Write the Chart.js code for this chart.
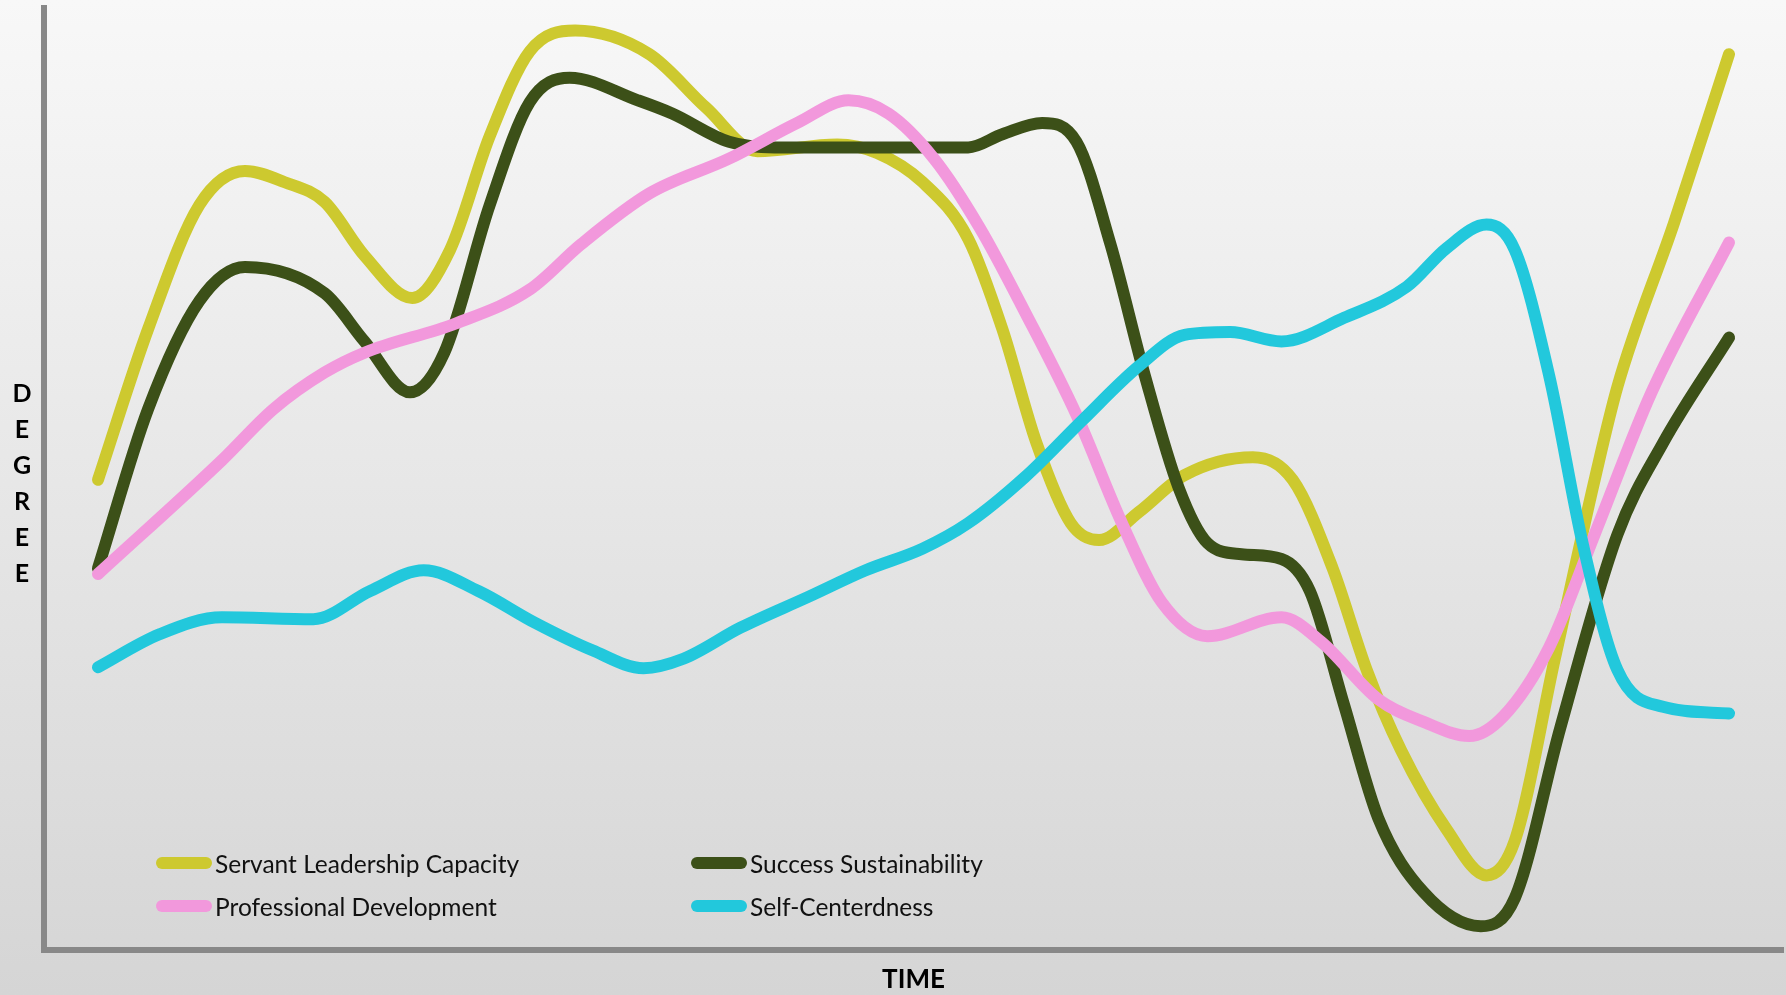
<!DOCTYPE html>
<html lang="en">
<head>
    <meta charset="UTF-8">
    <title>Degree over Time</title>
    <style>
        html, body {
            margin: 0;
            padding: 0;
            width: 1786px;
            height: 995px;
            overflow: hidden;
            background: linear-gradient(to bottom, #f8f8f8 0%, #d5d5d5 100%);
            font-family: Lato, "Open Sans", sans-serif;
        }
        #chart-container {
            position: absolute;
            left: 0;
            top: 0;
            width: 1786px;
            height: 995px;
        }
        #degree-label {
            position: absolute;
            left: 8px;
            top: 374px;
            width: 28px;
            text-align: center;
            font-weight: bold;
            font-size: 25px;
            line-height: 36px;
            color: #000;
        }
        #legend {
            position: absolute;
            left: 156px;
            top: 845px;
            display: grid;
            grid-template-columns: 535px 400px;
            row-gap: 7px;
        }
        .legend-item {
            display: flex;
            align-items: center;
            height: 36px;
            font-size: 24.5px;
            color: #111;
        }
        .swatch {
            width: 56px;
            height: 12px;
            border-radius: 6px;
            margin-right: 3px;
        }
    </style>
    <script src="https://cdn.jsdelivr.net/npm/chart.js"></script>
</head>
<body>
    <div id="chart-container">
        <canvas id="degreeChart"></canvas>
    </div>
    <div id="degree-label">D<br>E<br>G<br>R<br>E<br>E</div>
    <div id="legend"></div>

    <script>
        // time (0-100) and degree (0-100)
        const servantTime   = [0, 3.07, 6.22, 9.01, 11.45, 13.9, 16.34, 19.27, 21.58, 24.02, 26.47, 29.26, 33.8, 37.29, 40.43, 45.32, 47.77, 50.56, 53.35, 55.45, 57.54, 59.64, 61.38, 63.83, 66.62, 70.81, 73.25, 75.7, 77.79, 79.89, 82.68, 85.13, 86.87, 89.32, 91.76, 93.16, 96.65, 100];
        const servantDegree = [49.9, 65.9, 79.1, 82.7, 81.5, 79.4, 73.7, 69.2, 74.3, 86.4, 95.4, 97.6, 95.1, 89.4, 84.8, 85.5, 84.6, 81.5, 75.5, 65.9, 53.8, 45.3, 43.5, 46.5, 50.4, 52.3, 49.9, 40.5, 29.7, 21.2, 12.8, 7.9, 11.6, 30.9, 49.9, 59.8, 77.3, 95.1];

        const successTime   = [0, 3.07, 6.22, 9.01, 13.9, 16.34, 19.13, 21.23, 24.02, 26.47, 28.91, 33.1, 35.2, 38.69, 41.48, 47.07, 53.35, 55.45, 57.89, 59.99, 62.08, 64.18, 66.27, 68.02, 70.11, 72.56, 74.3, 76.4, 78.49, 81.28, 84.78, 86.87, 89.66, 93.16, 95.95, 100];
        const successDegree = [40.5, 57.4, 68.9, 72.5, 69.7, 64.6, 59.2, 63.4, 79.1, 90.0, 92.6, 90.2, 88.8, 85.8, 85.2, 85.2, 85.2, 86.6, 87.8, 85.8, 74.9, 61.0, 49.0, 43.2, 42.0, 41.5, 38.1, 26.0, 14.0, 6.1, 2.5, 5.5, 23.6, 44.1, 53.8, 65.0];

        const professionalTime   = [0, 7.61, 10.75, 13.9, 16.34, 21.93, 26.47, 29.61, 33.8, 38.69, 42.88, 46.02, 48.46, 51.26, 54.05, 56.84, 59.99, 62.78, 65.22, 68.02, 72.56, 75.0, 78.49, 81.28, 84.08, 86.17, 88.97, 91.76, 95.25, 100];
        const professionalDegree = [39.9, 52.0, 57.4, 61.3, 63.4, 66.5, 70.1, 74.9, 80.3, 84.0, 87.8, 90.2, 88.8, 84.0, 76.7, 67.7, 56.8, 45.3, 36.9, 33.3, 35.3, 32.7, 26.6, 24.2, 22.7, 24.8, 32.1, 44.1, 59.2, 75.1];

        const selfTime   = [0, 3.77, 7.61, 13.2, 16.69, 19.97, 23.32, 26.82, 30.31, 33.45, 35.89, 39.39, 43.58, 47.07, 50.56, 53.35, 56.84, 60.34, 63.83, 66.62, 69.41, 72.56, 76.4, 80.24, 82.68, 85.13, 86.87, 88.97, 91.06, 93.16, 95.95, 100];
        const selfDegree = [30.0, 33.5, 35.3, 35.1, 38.1, 40.3, 38.1, 34.7, 31.8, 29.9, 30.9, 34.2, 37.5, 40.3, 42.6, 45.3, 50.2, 56.2, 62.0, 65.3, 65.6, 64.6, 67.1, 70.4, 74.5, 77.0, 74.3, 61.0, 42.9, 29.7, 25.8, 25.1];

        const seriesNames  = ['Servant Leadership Capacity', 'Success Sustainability', 'Professional Development', 'Self-Centerdness'];
        const seriesColors = ['#cdc92f', '#3c5018', '#f298dc', '#22c8dc'];

        function toPoints(xs, ys) {
            return xs.map((x, i) => ({ x: x, y: ys[i] }));
        }

        const seriesData = [
            toPoints(servantTime, servantDegree),
            toPoints(successTime, successDegree),
            toPoints(professionalTime, professionalDegree),
            toPoints(selfTime, selfDegree)
        ];
        // drawing order: cyan on top, yellow at the bottom
        const drawOrder = [3, 2, 1, 0];

        const ctx = document.getElementById('degreeChart').getContext('2d');
        const chart = new Chart(ctx, {
            type: 'line',
            data: {
                datasets: seriesNames.map((name, i) => ({
                    label: name,
                    data: seriesData[i],
                    borderColor: seriesColors[i],
                    backgroundColor: seriesColors[i],
                    borderWidth: 12,
                    borderCapStyle: 'round',
                    borderJoinStyle: 'round',
                    pointRadius: 0,
                    cubicInterpolationMode: 'monotone',
                    fill: false,
                    order: drawOrder[i]
                }))
            },
            options: {
                responsive: true,
                maintainAspectRatio: false,
                animation: false,
                layout: {
                    padding: { left: 44, top: 8, right: 3, bottom: 0 }
                },
                plugins: {
                    legend: { display: false },
                    tooltip: { enabled: false }
                },
                scales: {
                    x: {
                        type: 'linear',
                        min: -3.31,
                        max: 103.31,
                        grid: { display: false, drawTicks: false },
                        ticks: { display: false },
                        border: { display: true, color: '#888888', width: 6 },
                        title: {
                            display: true,
                            text: 'TIME',
                            color: '#000',
                            font: { family: 'Lato', size: 26, weight: 'bold' },
                            padding: { top: 14, bottom: 0 }
                        }
                    },
                    y: {
                        min: 0,
                        max: 100,
                        grid: { display: false, drawTicks: false },
                        ticks: { display: false },
                        border: { display: true, color: '#888888', width: 6 }
                    }
                }
            }
        });

        // legend built from the chart's datasets, two columns inside the plot
        const legendEl = document.getElementById('legend');
        chart.data.datasets.forEach(ds => {
            const item = document.createElement('div');
            item.className = 'legend-item';
            const sw = document.createElement('span');
            sw.className = 'swatch';
            sw.style.backgroundColor = ds.borderColor;
            const txt = document.createElement('span');
            txt.textContent = ds.label;
            item.appendChild(sw);
            item.appendChild(txt);
            legendEl.appendChild(item);
        });
    </script>
</body>
</html>
